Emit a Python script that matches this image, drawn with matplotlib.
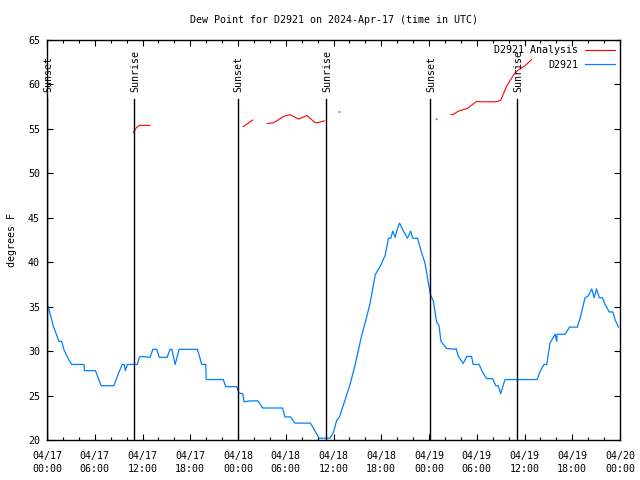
import numpy as np
import matplotlib
matplotlib.use("Agg")
import matplotlib.pyplot as plt
from matplotlib.ticker import MultipleLocator

# hours since 2024-04-17 00:00 UTC
obs_hours = [0.0, 0.15, 0.8, 1.5, 1.85, 2.15, 2.7, 3.1, 4.65, 4.7, 6.1, 6.3, 6.8, 8.4, 8.9,
             9.45, 9.7, 9.85, 10.1, 11.35, 11.6, 11.8, 12.95, 13.3, 13.8, 14.1, 15.1, 15.45,
             15.7, 16.1, 16.6, 18.9, 19.45, 19.95, 20.0, 22.15, 22.45, 23.85, 24.1, 24.6,
             24.75, 25.5, 26.5, 27.1, 29.6, 29.9, 30.6, 31.15, 33.1, 34.2, 35.55, 36.0,
             36.4, 36.75, 37.45, 38.1, 38.7, 39.55, 40.1, 40.6, 41.25, 41.9, 42.5, 42.9,
             43.2, 43.45, 43.75, 44.0, 44.3, 44.85, 45.3, 45.7, 45.95, 46.55, 47.1, 47.5,
             47.85, 48.2, 48.55, 48.95, 49.25, 49.5, 50.2, 51.25, 51.4, 51.7, 52.3, 52.75,
             53.35, 53.55, 54.3, 54.75, 55.25, 56.0, 56.4, 56.7, 57.0, 57.55, 61.6, 61.95,
             62.45, 62.8, 63.2, 63.85, 64.05, 64.1, 65.1, 65.65, 66.65, 67.05, 67.6, 68.0,
             68.45, 68.75, 69.05, 69.4, 69.8, 70.1, 70.65, 71.1, 71.4, 71.8]
obs_dewpt = [35.1, 35.0, 32.8, 31.1, 31.1, 30.1, 29.1, 28.5, 28.5, 27.8, 27.8, 27.3, 26.1, 26.1, 27.3,
             28.5, 28.5, 27.8, 28.5, 28.5, 29.3, 29.4, 29.3, 30.2, 30.2, 29.3, 29.3, 30.2,
             30.2, 28.5, 30.2, 30.2, 28.5, 28.5, 26.8, 26.8, 26.0, 26.0, 25.3, 25.2,
             24.3, 24.4, 24.4, 23.6, 23.6, 22.6, 22.6, 21.9, 21.9, 20.2, 20.2, 20.9,
             22.2, 22.6, 24.5, 26.3, 28.4, 31.8, 33.6, 35.4, 38.6, 39.6, 40.8, 42.7,
             42.7, 43.5, 42.8, 43.7, 44.4, 43.4, 42.7, 43.5, 42.7, 42.7, 41.0, 39.9,
             38.0, 36.3, 35.6, 33.3, 32.9, 31.1, 30.3, 30.2, 30.3, 29.4, 28.6, 29.4,
             29.4, 28.5, 28.5, 27.6, 26.9, 26.9, 26.1, 26.1, 25.2, 26.8, 26.8, 27.7,
             28.5, 28.5, 30.9, 31.9, 31.1, 31.9, 31.9, 32.7, 32.7, 33.9, 36.0, 36.2,
             37.0, 36.0, 37.0, 36.0, 36.0, 35.3, 34.4, 34.4, 33.5, 32.7]

nan = float("nan")
ana_hours = [10.85, 11.2, 11.6, 12.95, nan, 24.65, 25.85, nan, 27.7, 28.45, 29.05, 29.7, 30.55,
             31.6, 32.65, 33.7, 34.05, 34.85, nan, 36.7, 36.8, nan, 48.9, 49.0, nan, 50.75,
             51.0, 51.7, 52.8, 54.0, 54.6, 56.4, 57.0, 57.75, 58.8, 59.2, 60.05, 60.9]
ana_dewpt = [54.6, 55.1, 55.4, 55.4, nan, 55.25, 56.0, nan, 55.6, 55.7, 56.0, 56.4, 56.6,
             56.1, 56.5, 55.7, 55.7, 55.9, nan, 56.9, 56.9, nan, 56.1, 56.1, nan, 56.6,
             56.6, 57.0, 57.3, 58.1, 58.05, 58.05, 58.2, 59.8, 61.3, 61.6, 62.1, 62.8]

sun_hours = [0.05, 10.95, 23.95, 35.05, 48.1, 59.05]
sun_names = ["Sunset", "Sunrise", "Sunset", "Sunrise", "Sunset", "Sunrise"]

tick_labels = ["04/17\n00:00", "04/17\n06:00", "04/17\n12:00", "04/17\n18:00",
               "04/18\n00:00", "04/18\n06:00", "04/18\n12:00", "04/18\n18:00",
               "04/19\n00:00", "04/19\n06:00", "04/19\n12:00", "04/19\n18:00",
               "04/20\n00:00"]

plt.rcParams['font.family'] = ['DejaVu Sans Mono']
plt.rcParams['font.size'] = 7.2

fig = plt.figure(figsize=(6.4, 4.8), dpi=100)
ax = fig.add_axes([47/640, 40/480, 573/640, 400/480])

ax.plot(ana_hours, ana_dewpt, color='#ff0000', lw=0.8, label='D2921 Analysis')
ax.plot(obs_hours, obs_dewpt, color='#0080ff', lw=0.9, label='D2921')

for h, name in zip(sun_hours, sun_names):
    ax.plot([h, h], [20, 58.4], color='black', lw=1.0)
    ax.text(h + 0.15, 59.15, name, rotation=90, ha='center', va='bottom')

ax.set_xlim(0, 72)
ax.set_ylim(20, 65)
ax.set_xticks(np.arange(0, 73, 6))
ax.set_xticklabels(tick_labels, linespacing=1.4)
ax.xaxis.set_minor_locator(MultipleLocator(2))
ax.set_yticks(np.arange(20, 66, 5))
ax.tick_params(which='both', direction='in', top=True, right=True, color='black')
ax.tick_params(which='major', length=4.5, width=0.8)
ax.tick_params(which='minor', length=2.3, width=0.8)
ax.tick_params(axis='x', pad=8)
ax.tick_params(axis='y', pad=5)
for s in ax.spines.values():
    s.set_linewidth(1.0)

ax.set_ylabel("degrees F", labelpad=8)
ax.set_title("Dew Point for D2921 on 2024-Apr-17 (time in UTC)", fontsize=7.2, pad=12)

ax.legend(loc='upper right', frameon=False, markerfirst=False, alignment='right',
          handlelength=3.0, borderaxespad=0.15, labelspacing=0.45, handletextpad=0.6)

fig.savefig("out.png", dpi=100)
